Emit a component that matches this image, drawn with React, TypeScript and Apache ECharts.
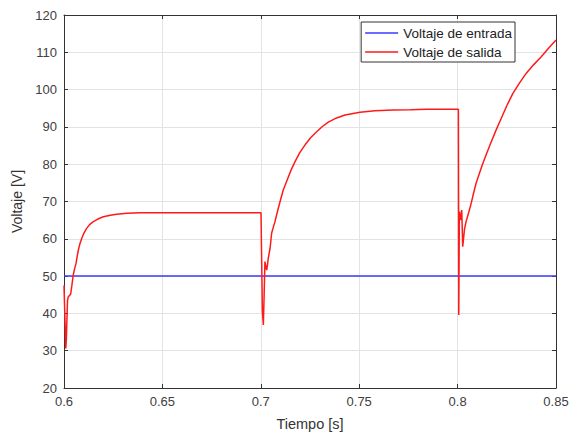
import React, { useEffect, useRef } from "react";
import * as echarts from "echarts";

// Input voltage (constant)
const inputTime: number[] = [0.6, 0.85];
const inputVolt: number[] = [50, 50];

// Output voltage – segment 1 (0.6 s – 0.7 s)
const seg1Time: number[] = [
  0.6, 0.6004, 0.6009, 0.6012, 0.6014, 0.6018, 0.6022, 0.6028, 0.6034, 0.604,
  0.6047, 0.6054, 0.6061, 0.6067, 0.6073, 0.6081, 0.609, 0.6102, 0.6115, 0.613,
  0.6149, 0.6172, 0.62, 0.6235, 0.6268, 0.632, 0.6386, 0.645, 0.66, 0.68, 0.7001,
];
const seg1Volt: number[] = [
  47.5, 40, 30.6, 33, 36.9, 43.5, 44.5, 44.8, 45.2, 47.5,
  50.3, 52, 53.4, 55.3, 57, 58.7, 60.1, 61.6, 62.8, 63.8,
  64.6, 65.3, 65.9, 66.3, 66.6, 66.85, 67.0, 67.0, 67.0, 67.0, 67.0,
];

// Output voltage – segment 2 (0.7 s – 0.8 s)
const seg2Time: number[] = [
  0.7008, 0.7013, 0.7017, 0.7021, 0.7026, 0.703, 0.7034, 0.7038, 0.7047, 0.7055,
  0.7064, 0.7072, 0.7085, 0.7098, 0.7114, 0.7132, 0.7152, 0.7174, 0.7198, 0.7225,
  0.7253, 0.7284, 0.7313, 0.7343, 0.7385, 0.7428, 0.7504, 0.758, 0.7672, 0.776,
  0.7845, 0.792, 0.8004,
];
const seg2Volt: number[] = [
  40.5, 36.9, 45, 53.9, 52.5, 51.6, 53, 54.8, 57.4, 61.5,
  63.2, 64.6, 67.4, 70, 73.1, 75.5, 78.2, 80.7, 83.1, 85.2,
  87.1, 88.7, 90.1, 91.3, 92.4, 93.2, 93.9, 94.3, 94.5, 94.6,
  94.7, 94.7, 94.7,
];

// Output voltage – segment 3 (0.8 s – 0.85 s)
const seg3Time: number[] = [
  0.8006, 0.8009, 0.8014, 0.8021, 0.8026, 0.8035, 0.8043, 0.8056, 0.8069, 0.8081,
  0.8094, 0.8111, 0.8128, 0.815, 0.8171, 0.8196, 0.8222, 0.8251, 0.8281, 0.8315,
  0.8349, 0.8387, 0.8425, 0.8462, 0.85,
];
const seg3Volt: number[] = [
  39.6, 67.3, 65, 67.7, 57.9, 62.5, 64.6, 67, 69.5, 72.2,
  74.9, 77.6, 80.2, 83.2, 86, 89.2, 92.3, 95.8, 99, 101.8,
  104.4, 106.7, 108.8, 111.1, 113.3,
];

const seriesNames: string[] = ["Voltaje de entrada", "Voltaje de salida"];
const xTicks: number[] = [0.6, 0.65, 0.7, 0.75, 0.8, 0.85];

const FONT = "Liberation Sans, Arial, Helvetica, sans-serif";
const AXIS_COLOR = "#333333";
const BLUE = "#3a3aff";
const RED = "#ff1a1a";

export default function App() {
  const ref = useRef<HTMLDivElement>(null);

  useEffect(() => {
    if (!ref.current) return;
    const chart = echarts.init(ref.current, undefined, { renderer: "svg" });

    const inputData = inputTime.map((t, i) => [t, inputVolt[i]]);
    const outTime = [...seg1Time, ...seg2Time, ...seg3Time];
    const outVolt = [...seg1Volt, ...seg2Volt, ...seg3Volt];
    const outputData = outTime.map((t, i) => [t, outVolt[i]]);

    const fmtX = (v: number) => String(+v.toFixed(2));

    chart.setOption({
      animation: false,
      backgroundColor: "#ffffff",
      grid: {
        left: 64,
        width: 492,
        top: 15,
        height: 373,
        containLabel: false,
        outerBoundsMode: "none",
      },
      legend: {
        data: [
          { name: seriesNames[0], icon: "rect", itemStyle: { color: BLUE } },
          { name: seriesNames[1], icon: "rect", itemStyle: { color: RED } },
        ],
        orient: "vertical",
        right: 57,
        top: 22,
        backgroundColor: "#ffffff",
        borderColor: "#333333",
        borderWidth: 1,
        borderRadius: 0,
        padding: [4, 3, 3, 4],
        itemGap: 5,
        itemWidth: 33,
        itemHeight: 1.6,
        textStyle: { fontFamily: FONT, fontSize: 13.5, color: "#222222" },
      },
      xAxis: [
        {
          type: "value",
          min: 0.6,
          max: 0.85,
          interval: 0.05,
          name: "Tiempo [s]",
          nameLocation: "middle",
          nameGap: 28,
          nameTextStyle: { fontFamily: FONT, fontSize: 14.5, color: "#333333" },
          axisLine: { show: true, onZero: false, lineStyle: { color: AXIS_COLOR, width: 1 } },
          axisTick: { show: true, inside: true, length: 4, lineStyle: { color: AXIS_COLOR } },
          axisLabel: {
            fontFamily: FONT,
            fontSize: 13,
            color: "#404040",
            margin: 7,
            formatter: (v: number) => (xTicks.some((t) => Math.abs(t - v) < 1e-9) ? fmtX(v) : ""),
          },
          splitLine: { show: true, lineStyle: { color: "#e3e3e3", width: 1 } },
        },
        {
          type: "value",
          position: "top",
          min: 0.6,
          max: 0.85,
          interval: 0.05,
          axisLine: { show: true, onZero: false, lineStyle: { color: AXIS_COLOR, width: 1 } },
          axisTick: { show: true, inside: true, length: 4, lineStyle: { color: AXIS_COLOR } },
          axisLabel: { show: false },
          splitLine: { show: false },
        },
      ],
      yAxis: [
        {
          type: "value",
          min: 20,
          max: 120,
          interval: 10,
          name: "Voltaje [V]",
          nameLocation: "middle",
          nameGap: 40,
          nameTextStyle: { fontFamily: FONT, fontSize: 14, color: "#333333" },
          axisLine: { show: true, onZero: false, lineStyle: { color: AXIS_COLOR, width: 1 } },
          axisTick: { show: true, inside: true, length: 4, lineStyle: { color: AXIS_COLOR } },
          axisLabel: { fontFamily: FONT, fontSize: 13, color: "#404040", margin: 7 },
          splitLine: { show: true, lineStyle: { color: "#e3e3e3", width: 1 } },
        },
        {
          type: "value",
          position: "right",
          min: 20,
          max: 120,
          interval: 10,
          axisLine: { show: true, onZero: false, lineStyle: { color: AXIS_COLOR, width: 1 } },
          axisTick: { show: true, inside: true, length: 4, lineStyle: { color: AXIS_COLOR } },
          axisLabel: { show: false },
          splitLine: { show: false },
        },
      ],
      series: [
        {
          name: seriesNames[0],
          type: "line",
          xAxisIndex: 0,
          yAxisIndex: 0,
          data: inputData,
          symbol: "none",
          lineStyle: { color: BLUE, width: 1.5 },
          itemStyle: { color: BLUE },
        },
        {
          name: seriesNames[1],
          type: "line",
          xAxisIndex: 0,
          yAxisIndex: 0,
          data: outputData,
          symbol: "none",
          lineStyle: { color: RED, width: 1.5 },
          itemStyle: { color: RED },
        },
      ],
    });

    return () => chart.dispose();
  }, []);

  return (
    <div
      ref={ref}
      style={{ position: "fixed", left: 0, top: 0, width: 572, height: 433, background: "#fff" }}
    />
  );
}
